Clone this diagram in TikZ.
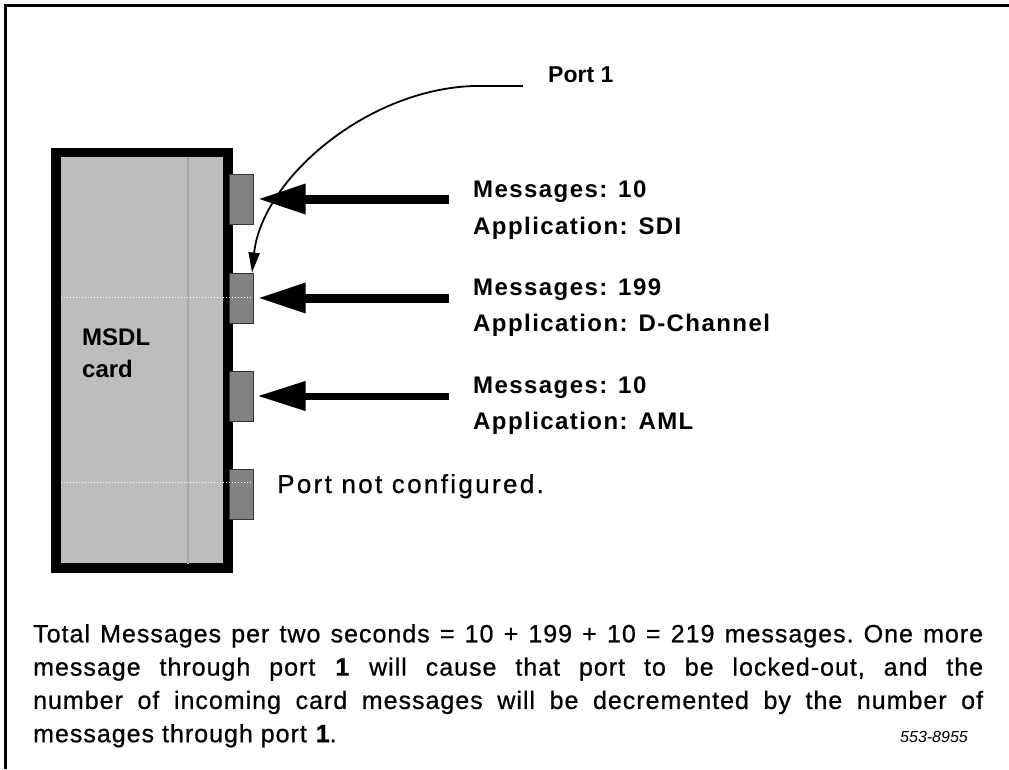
\documentclass[tikz,border=0pt]{standalone}
\usepackage{fontspec}
\setmainfont{Liberation Sans}
\newfontfamily\labfont[LetterSpace=6]{Liberation Sans}
\newfontfamily\parfont[LetterSpace=4,FakeBold=0.7]{Liberation Sans}
\newfontfamily\pnfont[LetterSpace=9,FakeBold=0.7]{Liberation Sans}
\usetikzlibrary{arrows.meta}
\definecolor{cardgray}{HTML}{BDBDBD}
\definecolor{portgray}{HTML}{828282}
\tikzset{
  frameline/.style={line width=3pt},
  cardbox/.style={draw=black, line width=9.5pt, fill=cardgray, minimum width=172pt, minimum height=415.5pt, inner sep=0pt},
  portbox/.style={draw=black!80, line width=1pt, fill=portgray, minimum width=24pt, minimum height=50pt, inner sep=0pt},
  bigarrow/.style={line width=9pt, -{Triangle[length=48pt,width=28pt]}},
  curvearrow/.style={line width=1.8pt, -{Triangle[length=20pt,width=11pt]}},
  lbl/.style={anchor=base west, inner sep=0pt, font=\labfont\bfseries\fontsize{24}{28}\selectfont},
  cardlbl/.style={anchor=base west, inner sep=0pt, font=\bfseries\fontsize{24}{28}\selectfont},
}
\begin{document}
\begin{tikzpicture}[x=1pt,y=-1pt]
\useasboundingbox (0,0) rectangle (1009,769);
\fill[white] (0,0) rectangle (1009,769);
% frame
\draw[frameline] (5.5,769) -- (5.5,5.5) -- (1009,5.5);
% card
\node[cardbox] (card) at (142,360.25) {};
\draw[gray!70, line width=1.2pt] (188,157) -- (188,564);
% ports
\node[portbox] (p1) at (241,199) {};
\node[portbox] (p2) at (241,298) {};
\node[portbox] (p3) at (241,396) {};
\node[portbox] (p4) at (241,494) {};
\draw[white, dotted, line width=1pt] (61,297) -- (252,297);
\draw[white, dotted, line width=1pt] (61,482) -- (252,482);
% card label
\node[cardlbl] (msdl) at (82,345) {MSDL};
\node[cardlbl] (cardtxt) at (82,377) {card};
% big arrows
\coordinate (a1) at (449,199);
\coordinate (a2) at (449,298);
\coordinate (a3) at (449,396);
\draw[bigarrow] (a1) -- ([xshift=4pt]p1.east);
\draw[bigarrow] (a2) -- ([xshift=4pt]p2.east);
\draw[bigarrow, line width=7pt] (a3) -- ([xshift=4pt]p3.east);
% Port 1 pointer
\node[anchor=base west, inner sep=0pt, font=\bfseries\fontsize{23}{27}\selectfont] (port1) at (548,82) {Port 1};
\coordinate (c0) at (523,86);
\coordinate (c1) at (473,86);
\draw[line width=1.5pt] (c0) -- (c1);
\draw[curvearrow] (c1) .. controls (365,90) and (262,180) .. ([xshift=11pt]p2.north);
% labels
\node[lbl] (m1) at (473,197) {Messages: 10};
\node[lbl] (ap1) at (473,234) {Application: SDI};
\node[lbl] (m2) at (473,295) {Messages: 199};
\node[lbl] (ap2) at (473,331) {Application: D-Channel};
\node[lbl] (m3) at (473,393) {Messages: 10};
\node[lbl] (ap3) at (473,429) {Application: AML};
\node[anchor=base west, inner sep=0pt, font=\pnfont\fontsize{26}{30}\selectfont] (pnc) at (277,493) {Port not configured.};
% paragraph
\node[anchor=north west, inner sep=0pt, text width=950pt, align=justify, font=\parfont\fontsize{25}{33.3}\selectfont] (para) at (33,624)
{\frenchspacing\tolerance=10000\hbadness=10000 Total Messages per two seconds = 10 + 199 + 10 = 219 messages. One more\linebreak
message through port \textbf{1} will cause that port to be locked-out, and the\linebreak
number of incoming card messages will be decremented by the number of\linebreak
messages through port \textbf{1}.};
\node[anchor=base west, inner sep=0pt, font=\itshape\fontsize{16}{18}\selectfont] (fig) at (900,742) {553-8955};
\end{tikzpicture}
\end{document}
